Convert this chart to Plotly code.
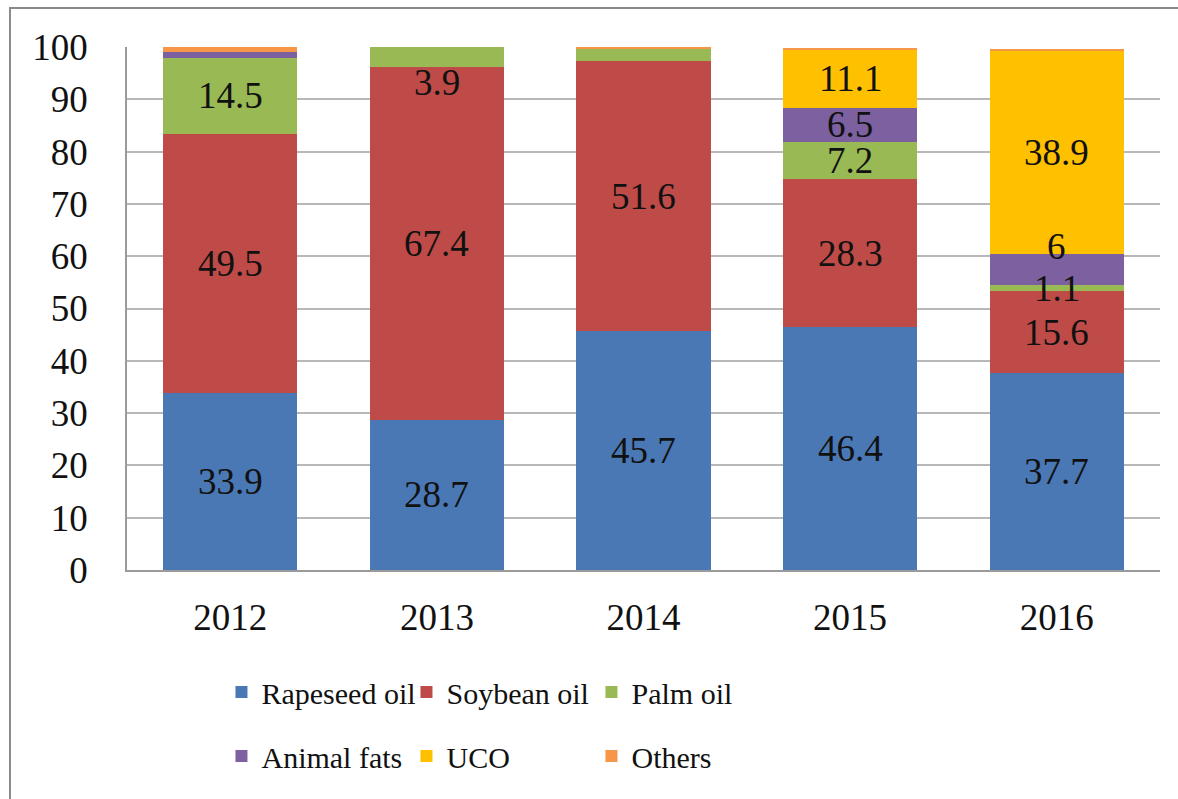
import plotly.graph_objects as go

years = ["2012", "2013", "2014", "2015", "2016"]
series_names = ["Rapeseed oil", "Soybean oil", "Palm oil", "Animal fats", "UCO", "Others"]
rapeseed = [33.9, 28.7, 45.7, 46.4, 37.7]
soybean = [49.5, 67.4, 51.6, 28.3, 15.6]
palm = [14.5, 3.9, 2.5, 7.2, 1.1]
animal_fats = [1.2, 0.0, 0.0, 6.5, 6.0]
uco = [0.0, 0.0, 0.0, 11.1, 38.9]
others = [0.9, 0.0, 0.2, 0.3, 0.3]

rapeseed_labels = ["33.9", "28.7", "45.7", "46.4", "37.7"]
soybean_labels = ["49.5", "67.4", "51.6", "28.3", "15.6"]
palm_labels = ["14.5", "3.9", "", "7.2", "1.1"]
animal_fats_labels = ["", "", "", "6.5", "6"]
uco_labels = ["", "", "", "11.1", "38.9"]
others_labels = ["", "", "", "", ""]

y_ticks = [0, 10, 20, 30, 40, 50, 60, 70, 80, 90, 100]

colors = ["#4A78B5", "#BE4B48", "#98B954", "#7D60A0", "#FFC000", "#F79646"]
values = [rapeseed, soybean, palm, animal_fats, uco, others]
labels = [rapeseed_labels, soybean_labels, palm_labels, animal_fats_labels, uco_labels, others_labels]
# pixel nudges for data labels Excel moved off-centre (style only)
label_yshift = {("Palm oil", "2013"): -25, ("Animal fats", "2016"): 23}

FONT = "Liberation Serif, Times New Roman, serif"

fig = go.Figure()
for i, (name, vals, col) in enumerate(zip(series_names, values, colors)):
    fig.add_trace(go.Bar(
        x=years, y=vals, name=name,
        marker=dict(color=col, line=dict(width=0)),
        legend="legend" if i < 3 else "legend2",
        hoverinfo="skip",
    ))

annotations = []
base = [0.0] * len(years)
for name, vals, labs in zip(series_names, values, labels):
    for j, yr in enumerate(years):
        if labs[j]:
            annotations.append(dict(
                x=j, y=base[j] + vals[j] / 2, xref="x", yref="y",
                text=labs[j], showarrow=False,
                yshift=label_yshift.get((name, yr), 0),
                font=dict(family=FONT, size=37, color="#111111"),
            ))
        base[j] += vals[j]

legend_common = dict(
    orientation="h", xref="container", yref="container",
    x=0.188, xanchor="left", yanchor="middle",
    font=dict(family=FONT, size=30, color="#111111"),
    entrywidth=140, entrywidthmode="pixels",
    itemwidth=30, bgcolor="rgba(0,0,0,0)", traceorder="normal",
)

fig.update_layout(
    barmode="stack",
    bargap=0.35,
    width=1178, height=799,
    margin=dict(l=127, r=18, t=47, b=229),
    paper_bgcolor="white", plot_bgcolor="white",
    font=dict(family=FONT, size=37, color="#111111"),
    annotations=annotations,
    legend=dict(legend_common, y=1 - 692 / 799),
    legend2=dict(legend_common, y=1 - 756 / 799),
    shapes=[dict(
        type="rect", xref="paper", yref="paper",
        x0=-117 / 1033, x1=1.2, y0=-0.5, y1=562 / 523,
        line=dict(color="#8a8a8a", width=2), fillcolor="rgba(0,0,0,0)",
        layer="below",
    )],
)

fig.update_xaxes(
    type="category", range=[-0.5, len(years) - 0.5],
    showgrid=False, showline=True, linecolor="#9a9a9a", linewidth=1.5,
    ticks="", tickfont=dict(family=FONT, size=37, color="#111111"),
    ticklabelstandoff=14,
)
fig.update_yaxes(
    range=[0, 100], tickvals=y_ticks, showgrid=True, gridcolor="#b8b8b8", gridwidth=1.5,
    showline=True, linecolor="#9a9a9a", linewidth=1.5, zeroline=False,
    ticks="", tickfont=dict(family=FONT, size=37, color="#111111"),
    ticklabelstandoff=30,
)

fig.write_html("out.html")
